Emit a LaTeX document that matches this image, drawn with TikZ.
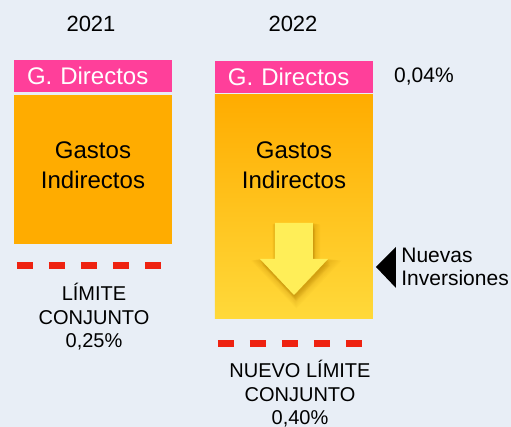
\documentclass[tikz,border=0pt]{standalone}
\usepackage{fontspec}
\setmainfont{Liberation Sans}
\definecolor{bgblue}{HTML}{E8EEF6}
\definecolor{gdpink}{HTML}{FF3F9A}
\definecolor{giorange}{HTML}{FFAC00}
\definecolor{giyellow}{HTML}{FFD93A}
\definecolor{arrowyellow}{HTML}{FFEE58}
\definecolor{shadowbrown}{HTML}{B07A00}
\definecolor{limitred}{HTML}{EE2211}
\tikzset{
  basenode/.style = {align=center, inner sep=0pt, text centered},
  year_node/.style = {basenode, font=\fontsize{11}{13}\selectfont},
  gd_node/.style = {rectangle, fill=gdpink, text=white, inner xsep=6.5pt, inner ysep=0pt, text width=66pt, align=left, minimum height=16pt, font=\fontsize{12}{14}\selectfont},
  gi_node/.style = {rectangle, fill=giorange, minimum width=79pt, inner sep=0pt},
  gi_text/.style = {basenode, font=\fontsize{12}{15}\selectfont},
  limit_text/.style = {basenode, font=\fontsize{10}{11.75}\selectfont},
  side_text/.style = {align=left, inner sep=0pt, font=\fontsize{10.5}{11.5}\selectfont},
  limit_line/.style = {limitred, line width=3.5pt, dash pattern=on 8pt off 8pt},
}
\newcommand{\downarrowpath}{(275,223) -- (313,223) -- (313,259) -- (328,259) -- (294,295) -- (260,259) -- (275,259) -- cycle}
\begin{document}
\begin{tikzpicture}[x=0.5pt, y=-0.5pt]
    \fill[bgblue] (0,0) rectangle (511,427);
    \useasboundingbox (0,0) rectangle (511,427);

    % anos
    \node [year_node] (y2021) at (91,23.5) {2021};
    \node [year_node] (y2022) at (293,23.5) {2022};

    % 2021
    \node [gd_node] (gd2021) at (93,76) {G. Directos};
    \node [gi_node, minimum height=74.5pt] (gi2021) at (93,169.5) {};
    \node [gi_text] (gitxt2021) at (93,165) {Gastos\\Indirectos};
    \coordinate (lim2021a) at (17,266);
    \coordinate (lim2021b) at (161,266);
    \draw [limit_line] (lim2021a) -- (lim2021b);
    \node [limit_text] (limtxt2021) at (94,317) {LÍMITE\\CONJUNTO\\0,25\%};

    % 2022
    \node [gd_node] (gd2022) at (294,77) {G. Directos};
    \node [gi_node, minimum height=112pt, top color=giorange, bottom color=giyellow] (gi2022) at (294,207) {};
    \node [gi_text] (gitxt2022) at (294,165) {Gastos\\Indirectos};
    % sombra difusa de la flecha
    \foreach \s in {1,2,...,8}
        \fill [shadowbrown, opacity=0.06, xshift=0.15*\s pt, yshift=-0.4*\s pt,
               line width=0.6*\s pt, draw=shadowbrown, draw opacity=0.04] \downarrowpath;
    \fill [arrowyellow] \downarrowpath;
    \coordinate (lim2022a) at (218,344);
    \coordinate (lim2022b) at (362,344);
    \draw [limit_line] (lim2022a) -- (lim2022b);
    \node [limit_text] (limtxt2022) at (300,394) {NUEVO LÍMITE\\CONJUNTO\\0,40\%};

    % lado derecho
    \node [basenode, font=\fontsize{10.5}{12}\selectfont] (pct) at (424,77) {0,04\%};
    \fill (376,267) -- (396,247) -- (396,288) -- cycle;
    \node [side_text, anchor=west] (inv) at (401,267) {Nuevas\\Inversiones};
\end{tikzpicture}
\end{document}
